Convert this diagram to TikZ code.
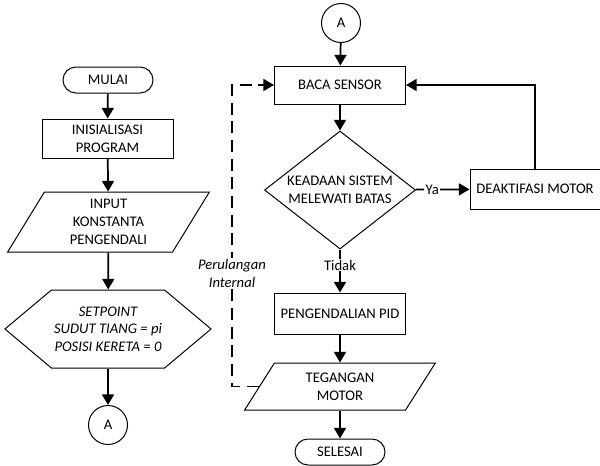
\documentclass[tikz,border=0pt]{standalone}
\usepackage{fontspec}
\setmainfont{Carlito}
\usetikzlibrary{shapes.geometric,shapes.symbols,arrows.meta}

\tikzset{
  box/.style={draw, line width=0.75pt, align=center, inner sep=2pt},
  terminal/.style={box, rounded corners=9.75pt, minimum width=67.5pt, minimum height=19.5pt},
  process/.style={box, minimum width=98.25pt, minimum height=29.25pt},
  io/.style={box, trapezium, trapezium stretches=true, trapezium left angle=#1, trapezium right angle=180-#1},
  decision/.style={box, diamond, aspect=1.28, inner sep=0pt, minimum width=113.25pt, minimum height=88.5pt},
  prep/.style={box, signal, signal to=west and east, signal pointer angle=80, minimum width=151.5pt, minimum height=58.5pt},
  connector/.style={box, circle, minimum size=29.25pt, inner sep=0pt},
  flow/.style={-{Triangle[length=8pt,width=9pt]}, line width=1.3pt},
  loopline/.style={flow, dash pattern=on 9pt off 5pt},
  branch/.style={fill=white, inner sep=1pt}
}

\begin{document}
\begin{tikzpicture}[x=0.75pt, y=-0.75pt, font=\fontsize{11}{13.5}\selectfont]
  \useasboundingbox (0,0) rectangle (600,465);

  % kolom kiri
  \node[terminal] (mulai) at (108,80) {MULAI};
  \node[process] (inisial) at (107.5,138.5) {INISIALISASI\\PROGRAM};
  \node[io=65, minimum width=152.25pt, minimum height=45pt] (input) at (108.5,222) {INPUT\\KONSTANTA\\PENGENDALI};
  \node[prep, font=\fontsize{11}{13}\selectfont\itshape] (setpoint) at (108,329) {SETPOINT\\SUDUT TIANG = pi\\POSISI KERETA = 0};
  \node[connector] (a1) at (108,425) {A};

  \draw[flow] (mulai) -- (inisial);
  \draw[flow] (inisial) -- (input);
  \draw[flow] (input) -- (setpoint);
  \draw[flow] (setpoint) -- (a1);

  % kolom kanan
  \node[connector] (a2) at (341,23) {A};
  \node[process, minimum height=28.5pt] (baca) at (340,85) {BACA SENSOR};
  \node[decision] (batas) at (340,190) {KEADAAN SISTEM\\MELEWATI BATAS};
  \node[process, minimum width=97.5pt, minimum height=30pt] (deaktif) at (535,189) {DEAKTIFASI MOTOR};
  \node[process, minimum height=30.75pt] (pid) at (340,313.5) {PENGENDALIAN PID};
  \node[io=63, minimum width=143.25pt, minimum height=35.25pt] (tegangan) at (340,386.5) {TEGANGAN\\MOTOR};
  \node[terminal] (selesai) at (340,452) {SELESAI};

  \draw[flow] (a2) -- (baca);
  \draw[flow] (baca) -- (batas);
  \draw[flow] (batas) -- node[branch, pos=0.31] {Ya} (deaktif);
  \draw[flow] (deaktif.north) |- (baca.east);
  \draw[flow] (batas) -- node[branch, pos=0.36] {Tidak} (pid);
  \draw[flow] (pid) -- (tegangan);
  \draw[flow] (tegangan) -- (selesai);

  % perulangan internal
  \coordinate (loopx) at (232,0);
  \draw[loopline] (tegangan.west) -- (tegangan.west -| loopx) |- (baca.west);
  \node[branch, align=center, font=\fontsize{11}{13.5}\selectfont\itshape] (perulangan) at (232,273) {Perulangan\\Internal};
\end{tikzpicture}
\end{document}
